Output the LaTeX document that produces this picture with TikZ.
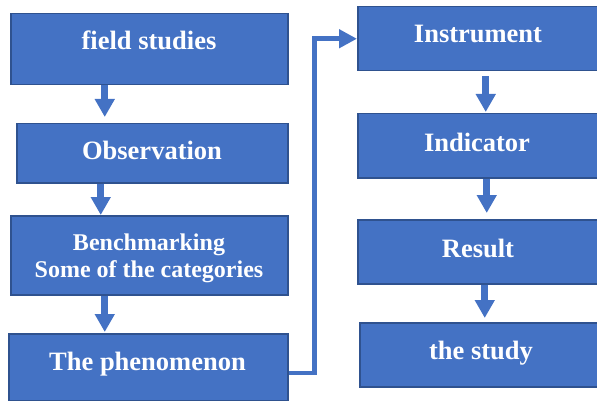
\documentclass[tikz,border=0pt]{standalone}
\usepackage{fontspec}
\setmainfont{Liberation Serif}
\usetikzlibrary{arrows.meta}
\definecolor{boxfill}{HTML}{4472C4}
\definecolor{boxline}{HTML}{2F528F}
\tikzset{
  box/.style={rectangle, fill=boxfill, draw=boxline, line width=1.5pt, inner sep=0pt, anchor=north west},
  lbl/.style={text=white, font=\bfseries\fontsize{26.5}{30}\selectfont, anchor=base, inner sep=0pt},
  lblsmall/.style={lbl, font=\bfseries\fontsize{24}{28}\selectfont},
  varrow/.style={draw=boxfill, line width=7pt, -{Triangle[width=19pt,length=18pt]}},
  conn/.style={draw=boxfill, line width=4.5pt, line join=miter, -{Triangle[width=18pt,length=18pt]}}
}
\begin{document}
\begin{tikzpicture}[x=1pt,y=-1pt]
\useasboundingbox (0,0) rectangle (597,401);
\clip (0,0) rectangle (597,401);
% left column
\node[box, minimum width=277pt, minimum height=71pt] (b1) at (10,13) {};
\node[box, minimum width=271pt, minimum height=59pt] (b2) at (16,123) {};
\node[box, minimum width=277pt, minimum height=79pt] (b3) at (10,215) {};
\node[box, minimum width=279pt, minimum height=67pt] (b4) at (8,333) {};
% right column
\node[box, minimum width=244pt, minimum height=64pt] (b5) at (357,6) {};
\node[box, minimum width=244pt, minimum height=64pt] (b6) at (357,113) {};
\node[box, minimum width=244pt, minimum height=64pt] (b7) at (357,219) {};
\node[box, minimum width=242pt, minimum height=64pt] (b8) at (359,322) {};
% labels
\node[lbl] (t1) at (149,50) {field studies};
\node[lbl] (t2) at (152,160) {Observation};
\node[lblsmall] (t3a) at (149,250) {Benchmarking};
\node[lblsmall] (t3b) at (149,277) {Some of the categories};
\node[lbl] (t4) at (147.5,370) {The phenomenon};
\node[lbl] (t5) at (478,43) {Instrument};
\node[lbl] (t6) at (477,151) {Indicator};
\node[lbl] (t7) at (478,257) {Result};
\node[lbl] (t8) at (481,359) {the study};
% vertical arrows
\draw[varrow, shorten >=6pt] ([xshift=-44.5pt]b1.south) -- ([xshift=-44.5pt]b1.south |- b2.north);
\draw[varrow] ([xshift=-51.5pt]b2.south) -- ([xshift=-51.5pt]b2.south |- b3.north);
\draw[varrow, shorten >=1pt] ([xshift=-44.5pt]b3.south) -- ([xshift=-44.5pt]b3.south |- b4.north);
\draw[varrow, shorten <=5pt, shorten >=1pt] ([xshift=6pt]b5.south) -- ([xshift=6pt]b5.south |- b6.north);
\draw[varrow, shorten >=6pt] ([xshift=7pt]b6.south) -- ([xshift=7pt]b6.south |- b7.north);
\draw[varrow, shorten >=4pt] ([xshift=5pt]b7.south) -- ([xshift=5pt]b7.south |- b8.north);
% connector
\draw[conn] ([yshift=-5.5pt]b4.east) -- ++(26,0) |- (b5.west);
\end{tikzpicture}
\end{document}
